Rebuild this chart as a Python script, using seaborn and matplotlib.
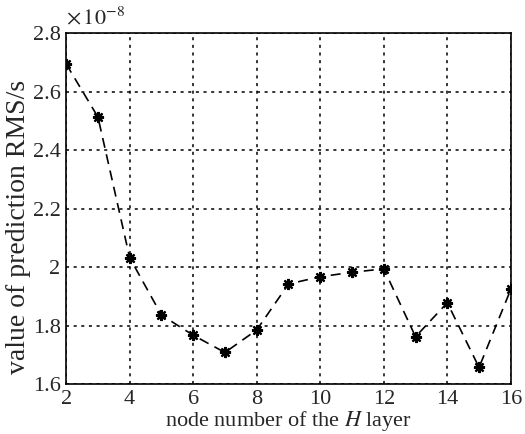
import numpy as np
import pandas as pd
import matplotlib
matplotlib.use("Agg")
import matplotlib.pyplot as plt
from matplotlib.ticker import FormatStrFormatter
import seaborn as sns

# node number of the H layer
nodes = [2, 3, 4, 5, 6, 7, 8, 9, 10, 11, 12, 13, 14, 15, 16]
# prediction RMS, in units of 1e-8 s
rms = [2.694, 2.513, 2.032, 1.836, 1.767, 1.708, 1.785, 1.942,
       1.967, 1.982, 1.994, 1.762, 1.878, 1.657, 1.924]
yticks = [1.6, 1.8, 2.0, 2.2, 2.4, 2.6, 2.8]

df = pd.DataFrame({"nodes": nodes, "rms": rms})

sns.set_style("white")
plt.rcParams["font.family"] = ["Liberation Serif", "DejaVu Serif"]
plt.rcParams["mathtext.fontset"] = "stix"

fig = plt.figure(figsize=(5.25, 4.34), dpi=100)
ax = fig.add_axes([0.126, 0.115, 0.847, 0.809])

sns.lineplot(data=df, x="nodes", y="rms", ax=ax, color="black",
             linestyle=(0, (6, 4)), linewidth=1.2, marker=(8, 2, 0),
             markersize=8, markeredgewidth=1.6,
             markeredgecolor="black", markerfacecolor="black")

ax.set_xlim(2, 16)
ax.set_ylim(1.6, 2.8)
ax.set_xticks(range(2, 17, 2))
ax.set_yticks(yticks)
ax.yaxis.set_major_formatter(FormatStrFormatter("%g"))

# MATLAB-style exponent label above the y axis
ax.text(0.0, 1.01, r"$\times\,10^{-8}$", transform=ax.transAxes,
        fontsize=16, ha="left", va="bottom")

ax.grid(True, color="black", linestyle=(0, (2, 3)), linewidth=1.1)
for s in ax.spines.values():
    s.set_color("black")
    s.set_linewidth(1.2)
ax.tick_params(direction="in", length=0, labelsize=16, pad=4)

ax.set_xlabel("node number of the $\\it{H}$ layer", fontsize=16, labelpad=0)
ax.set_ylabel("value of prediction RMS/s", fontsize=20)
ax.yaxis.set_label_coords(-0.078, 0.447)

fig.savefig("out.png", dpi=100)
